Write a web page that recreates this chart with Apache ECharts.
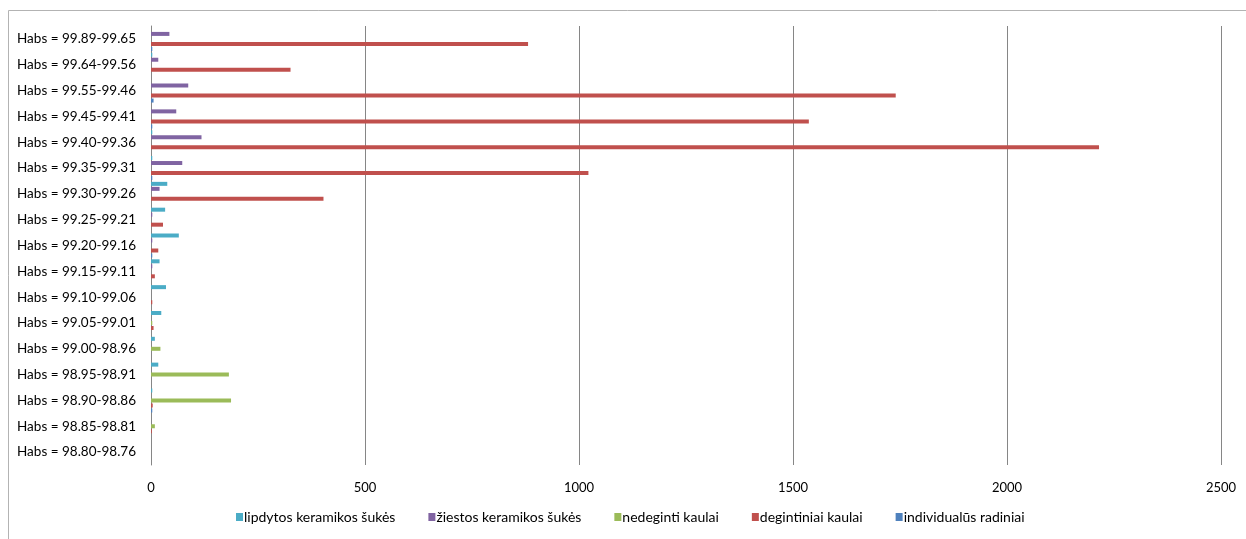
<!DOCTYPE html>
<html>
<head>
<meta charset="utf-8">
<style>
  html, body { margin: 0; padding: 0; background: #ffffff; }
  #chart { width: 1246px; height: 539px; }
</style>
<script src="https://cdn.jsdelivr.net/npm/echarts@6/dist/echarts.min.js"></script>
</head>
<body>
<div id="chart"></div>
<script>
// Depth intervals, listed from top to bottom
const categories = [
  'Habs = 99.89-99.65', 'Habs = 99.64-99.56', 'Habs = 99.55-99.46', 'Habs = 99.45-99.41',
  'Habs = 99.40-99.36', 'Habs = 99.35-99.31', 'Habs = 99.30-99.26', 'Habs = 99.25-99.21',
  'Habs = 99.20-99.16', 'Habs = 99.15-99.11', 'Habs = 99.10-99.06', 'Habs = 99.05-99.01',
  'Habs = 99.00-98.96', 'Habs = 98.95-98.91', 'Habs = 98.90-98.86', 'Habs = 98.85-98.81',
  'Habs = 98.80-98.76'
];

const seriesNames = [
  'lipdytos keramikos šukės',
  'žiestos keramikos šukės',
  'nedeginti kaulai',
  'degintiniai kaulai',
  'individualūs radiniai'
];

const lipdytos     = [0, 3, 0, 0, 3, 3, 38, 33, 65, 20, 35, 24, 9, 17, 3, 0, 0];
const ziestos      = [43, 17, 87, 59, 118, 73, 20, 3, 3, 3, 0, 0, 0, 0, 0, 0, 0];
const nedeginti    = [0, 0, 0, 0, 0, 0, 0, 0, 0, 0, 0, 3, 22, 182, 187, 9, 0];
const degintiniai  = [881, 326, 1740, 1537, 2215, 1022, 403, 28, 17, 9, 3, 6, 0, 0, 4, 2, 0];
const individualus = [3, 0, 6, 3, 0, 3, 0, 0, 3, 0, 0, 0, 0, 0, 3, 0, 0];

const xTicks = { min: 0, max: 2500, interval: 500 };

const colors = ['#4BACC6', '#8064A2', '#9BBB59', '#C0504D', '#4F81BD'];
const values = [lipdytos, ziestos, nedeginti, degintiniai, individualus];

const FONT = 'Lato, "Liberation Sans", sans-serif';

const chart = echarts.init(document.getElementById('chart'), null, { renderer: 'canvas' });

chart.setOption({
  animation: false,
  backgroundColor: '#ffffff',
  color: colors,
  graphic: [{
    type: 'rect',
    shape: { x: 8.5, y: 10.5, width: 1400, height: 700 },
    style: { fill: 'none', stroke: '#b3b3b3', lineWidth: 1 },
    silent: true,
    z: -10
  }],
  grid: { left: 151, right: 25, top: 26, bottom: 74, containLabel: false },
  legend: {
    data: seriesNames,
    bottom: 10,
    left: 231,
    icon: 'rect',
    itemWidth: 7,
    itemHeight: 8,
    itemGap: 33,
    textStyle: { fontFamily: FONT, fontSize: 14, color: '#000000', padding: [0, 0, 0, -4] }
  },
  xAxis: {
    type: 'value',
    min: xTicks.min,
    max: xTicks.max,
    interval: xTicks.interval,
    axisLine: { show: false },
    axisTick: { show: false },
    axisLabel: {
      fontFamily: FONT, fontSize: 13, color: '#000000', margin: 16,
      formatter: v => String(v)
    },
    splitLine: { show: true, lineStyle: { color: '#868686', width: 1 } }
  },
  yAxis: {
    type: 'category',
    data: categories,
    inverse: true,
    axisLine: { show: true, lineStyle: { color: '#868686', width: 1 } },
    axisTick: { show: false },
    axisLabel: { fontFamily: FONT, fontSize: 13.5, color: '#000000', margin: 15 },
    splitLine: { show: false }
  },
  series: seriesNames.map((name, i) => ({
    name: name,
    type: 'bar',
    data: values[i],
    barWidth: 4,
    barGap: '25%',
    itemStyle: { color: colors[i] }
  }))
});
</script>
</body>
</html>
